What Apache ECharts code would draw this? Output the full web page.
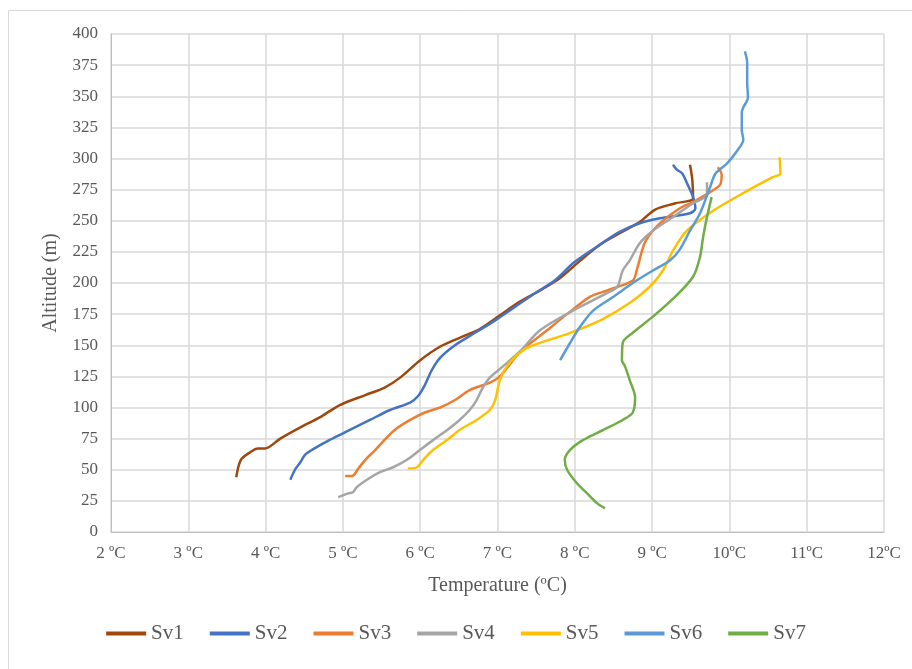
<!DOCTYPE html>
<html>
<head>
<meta charset="utf-8">
<script src="https://cdn.jsdelivr.net/npm/echarts@6/dist/echarts.min.js"></script>
<style>html,body{margin:0;padding:0;background:#fff}#c{width:912px;height:669px}</style>
</head>
<body>
<div id="c"></div>
<script>
var seriesNames = ['Sv1','Sv2','Sv3','Sv4','Sv5','Sv6','Sv7'];
var seriesColors = ['#9E480E','#4472C4','#ED7D31','#A5A5A5','#FFC000','#5B9BD5','#70AD47'];
var xTickMin = 2, xTickMax = 12, xTickStep = 1;
var yTickMin = 0, yTickMax = 400, yTickStep = 25;

var sv1 = [[3.62,44],[3.68,58],[3.80,64],[3.90,67],[3.99,67],[4.19,75],[4.45,84],[4.70,92],[4.96,102],[5.29,110],[5.54,116],[5.74,124],[6.00,138],[6.26,149],[6.51,156],[6.77,163],[7.03,174],[7.29,185],[7.55,194],[7.81,204],[8.07,218],[8.33,231],[8.58,240],[8.84,249],[9.04,259],[9.30,264],[9.53,268],[9.52,283],[9.49,295]];
var sv2 = [[4.32,42],[4.38,50],[4.45,56],[4.51,62],[4.60,66],[4.83,74],[5.09,82],[5.35,90],[5.61,98],[5.87,104],[5.97,109],[6.06,118],[6.15,130],[6.26,140],[6.45,150],[6.71,160],[6.97,170],[7.23,181],[7.49,192],[7.74,202],[8.00,217],[8.33,231],[8.58,241],[8.84,248],[9.10,252],[9.49,256],[9.56,260],[9.53,269],[9.46,279],[9.39,288],[9.32,291],[9.27,295]];
var sv3 = [[5.03,45],[5.12,45],[5.20,51],[5.29,58],[5.42,66],[5.54,74],[5.67,82],[5.87,90],[6.06,96],[6.26,100],[6.45,106],[6.64,114],[6.90,120],[7.03,125],[7.30,145],[7.60,160],[7.90,175],[8.20,189],[8.42,194],[8.75,202],[8.80,210],[8.87,226],[8.91,233],[9.01,242],[9.14,250],[9.36,260],[9.53,265],[9.75,273],[9.88,279],[9.90,287],[9.85,293]];
var sv4 = [[4.94,28],[5.07,31],[5.13,32],[5.18,36],[5.31,42],[5.48,48],[5.65,52],[5.83,58],[6.00,66],[6.17,74],[6.35,82],[6.51,90],[6.64,98],[6.73,106],[6.81,116],[6.90,124],[7.07,133],[7.29,145],[7.55,162],[7.98,178],[8.42,192],[8.55,197],[8.62,210],[8.71,218],[8.84,232],[9.01,242],[9.27,253],[9.53,264],[9.71,271],[9.71,281]];
var sv5 = [[5.84,51],[5.96,52],[6.04,58],[6.17,66],[6.35,74],[6.51,82],[6.73,90],[6.90,98],[6.97,106],[7.03,122],[7.12,133],[7.29,144],[7.42,149],[7.94,160],[8.33,170],[8.71,184],[8.97,197],[9.14,210],[9.27,226],[9.45,242],[9.79,258],[10.23,274],[10.56,285],[10.66,288],[10.65,301]];
var sv6 = [[7.81,138],[7.94,152],[8.07,165],[8.24,178],[8.50,189],[8.75,200],[9.01,210],[9.23,218],[9.36,227],[9.49,242],[9.62,256],[9.75,277],[9.82,288],[9.97,296],[10.11,307],[10.18,315],[10.16,323],[10.16,337],[10.18,341],[10.24,349],[10.23,361],[10.23,377],[10.20,386]];
var sv7 = [[8.39,19],[8.29,23],[8.16,31],[8.03,39],[7.90,50],[7.87,58],[7.94,66],[8.11,74],[8.37,82],[8.62,90],[8.75,96],[8.78,108],[8.71,122],[8.65,133],[8.61,138],[8.62,152],[8.75,160],[9.01,173],[9.30,189],[9.53,205],[9.62,221],[9.66,237],[9.71,253],[9.77,269]];
var seriesData = [sv1,sv2,sv3,sv4,sv5,sv6,sv7];

var serif = '"Liberation Serif","DejaVu Serif",serif';
var chart = echarts.init(document.getElementById('c'));
chart.setOption({
  animation: false,
  backgroundColor: '#fff',
  graphic: [{type:'rect', shape:{x:8.5,y:10.5,width:920,height:680}, style:{fill:'none',stroke:'#D9D9D9',lineWidth:1}, silent:true}],
  grid: {left:111, right:28, top:34, bottom:137},
  xAxis: {
    type:'value', min:xTickMin, max:xTickMax, interval:xTickStep,
    name:'Temperature (ºC)', nameLocation:'middle', nameGap:44,
    nameTextStyle:{fontFamily:serif,fontSize:20,color:'#595959'},
    axisLine:{show:true,onZero:false,lineStyle:{color:'#BFBFBF'}},
    axisTick:{show:false},
    splitLine:{show:true,lineStyle:{color:'#D9D9D9',width:1.5}},
    axisLabel:{fontFamily:serif,fontSize:17,color:'#595959',margin:13,
      formatter:function(v){return v>=10 ? v+'ºC' : v+' ºC';}}
  },
  yAxis: {
    type:'value', min:yTickMin, max:yTickMax, interval:yTickStep,
    name:'Altitude (m)', nameLocation:'middle', nameGap:50, nameRotate:90,
    nameTextStyle:{fontFamily:serif,fontSize:20,color:'#595959'},
    axisLine:{show:true,lineStyle:{color:'#BFBFBF'}},
    axisTick:{show:false},
    splitLine:{show:true,lineStyle:{color:'#D9D9D9',width:1.5}},
    axisLabel:{fontFamily:serif,fontSize:17,color:'#595959',margin:13}
  },
  legend: {
    bottom:20, left:'center', itemWidth:40, itemHeight:4, itemGap:26, icon:'rect',
    textStyle:{fontFamily:serif,fontSize:21,color:'#595959'},
    data: seriesNames
  },
  series: seriesNames.map(function(n,i){
    return {name:n, type:'line', data:seriesData[i], showSymbol:false, smooth:0.3,
      color:seriesColors[i], lineStyle:{width:2.5,color:seriesColors[i]}};
  })
});
</script>
</body>
</html>
